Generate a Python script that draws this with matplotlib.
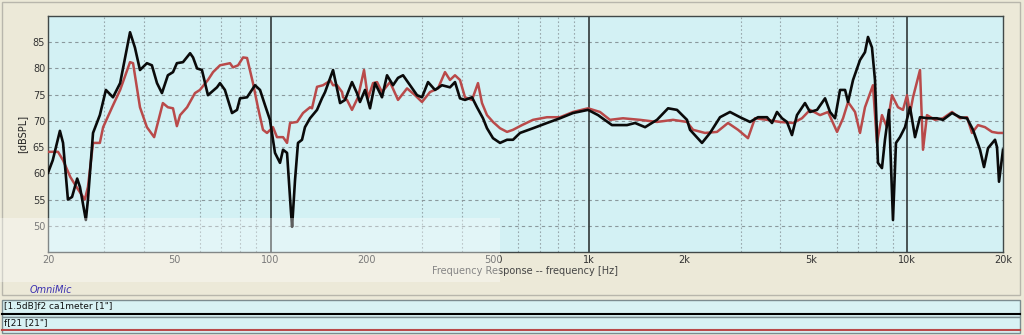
import matplotlib
matplotlib.use("Agg")
import matplotlib.pyplot as plt
import numpy as np
from matplotlib.patches import Rectangle
from matplotlib.ticker import FixedLocator, NullFormatter

# black trace: [1.5dB]f2 ca1meter
black_f = [20, 20.7, 21.8, 22.3, 23.1, 23.8, 24.7, 25.2, 26.3, 26.7, 27.7, 29.1, 30.4, 32.0,
           33.7, 36.2, 37.5, 38.9, 40.9, 42.4, 44.0, 45.6, 47.6, 49.4, 50.8, 53.1, 55.9, 57.1,
           58.8, 60.9, 63.6, 67.9, 69.4, 71.9, 75.7, 78.5, 80.2, 84.4, 89.4, 92.7, 96.1, 99.6,
           103.3, 107.1, 109.5, 112.7, 116.0, 116.9, 119.4, 122.0, 125.6, 128.3, 133.1, 140.0,
           145.1, 148.4, 157.2, 165.4, 171.5, 180.3, 186.9, 191.0, 198.1, 205.4, 213.0, 224.0,
           232.3, 242.6, 251.5, 260.8, 274.4, 288.6, 299.2, 312.5, 328.7, 345.7, 366.3, 379.8,
           393.8, 408.3, 429.5, 445.3, 465.0, 478.7, 500, 526, 553.4, 577.9, 607.9, 667.9,
           738.9, 811.9, 891.9, 994, 1069, 1182, 1318, 1397, 1502, 1637, 1774, 1892, 2034,
           2079, 2267, 2403, 2583, 2776, 2985, 3209, 3399, 3628, 3762, 3900, 4044, 4192, 4346,
           4506, 4775, 4953, 5211, 5521, 5724, 5935, 6154, 6381, 6521, 6760, 7109, 7370, 7532,
           7752, 7922, 8096, 8333, 8516, 8767, 9024, 9222, 9493, 9845, 10208, 10584, 10972,
           11626, 12407, 12958, 13834, 14656, 15417, 16100, 16936, 17433, 17945, 18877, 19153,
           19432, 20000]
black_db = [60.1, 62.5, 68.1, 65.8, 55.0, 55.5, 59.0, 57.4, 51.1, 55.0, 67.7, 71.1, 75.9, 74.5,
            77.2, 86.9, 84.0, 79.7, 81.0, 80.6, 77.2, 75.3, 78.7, 79.3, 81.0, 81.2, 82.9, 82.1,
            80.0, 79.7, 74.9, 76.4, 77.2, 75.9, 71.5, 72.1, 74.3, 74.5, 76.8, 75.9, 73.0, 70.2,
            63.9, 62.0, 64.5, 63.9, 52.5, 49.8, 58.7, 65.8, 66.4, 68.8, 70.5, 72.1,
            74.3, 75.5, 79.7, 73.4, 74.0, 77.4, 75.3, 73.6, 75.9, 72.4, 77.2, 74.5,
            78.7, 76.8, 78.2, 78.7, 76.8, 74.9, 74.5, 77.4, 75.9, 76.8, 76.4, 77.4,
            74.3, 74.0, 74.5, 72.6, 70.5, 68.6, 66.7, 65.8, 66.4, 66.4, 67.7, 68.6,
            69.6, 70.5, 71.5, 72.1, 71.1, 69.2, 69.2, 69.6, 68.8, 70.2, 72.4, 72.1, 70.2,
            68.3, 65.8, 67.7, 70.7, 71.7, 70.7, 69.8, 70.7, 70.7, 69.6, 71.7, 70.5, 69.8, 67.3,
            71.1, 73.4, 71.7, 72.1, 74.3, 71.7, 70.5, 75.9, 75.9, 73.6, 77.8, 81.6, 83.1, 86.0,
            84.0, 77.8, 62.0, 61.0, 66.4, 72.1, 51.1, 65.8, 66.9, 68.8, 72.6, 66.9, 70.7,
            70.5, 70.5, 70.2, 71.5, 70.7, 70.5, 68.3, 64.5, 61.2, 64.8, 66.4, 65.0,
            58.4, 64.5]

# red trace: f[21 [21"]
red_f = [20, 21.5, 22.3, 23.5, 24.7, 26.1, 26.7, 27.7, 29.1, 29.8, 31.8, 33.7, 36.2, 37.0,
         38.9, 40.9, 43.1, 45.9, 47.6, 49.4, 50.8, 52.0, 54.7, 57.9, 60.0, 63.6, 66.0, 69.4,
         74.6, 76.2, 79.1, 82.0, 84.4, 88.1, 91.3, 94.7, 97.5, 101.8, 104.8, 109.5, 112.7,
         115.2, 121.2, 126.5, 133.1, 135.0, 140.0, 146.2, 151.6, 153.9, 157.2, 161.8, 167.8,
         169.0, 173.9, 180.3, 188.3, 196.7, 202.4, 209.9, 216.1, 224.0, 237.4, 251.5, 268.5,
         284.4, 299.2, 317.0, 335.9, 353.3, 366.3, 379.8, 393.8, 408.3, 429.5, 448.5, 461.7,
         478.7, 500, 526, 553.4, 577.9, 616.7, 667.9, 738.9, 811.9, 891.9, 994, 1084, 1165,
         1280, 1448, 1637, 1839, 2034, 2125, 2317, 2527, 2736, 2942, 3162, 3326, 3628, 3986,
         4378, 4672, 4953, 5325, 5642, 6022, 6289, 6521, 6859, 7109, 7370, 7808, 8037, 8333,
         8640, 8959, 9357, 9702, 9989, 10208, 10432, 10972, 11213, 11542, 12229, 12958,
         13834, 14656, 15417, 15984, 16692, 17560, 18472, 19292, 20000]
red_db = [64.1, 64.1, 62.5, 59.3, 57.2, 55.0, 57.4, 65.8, 65.8, 68.8, 72.6, 75.9, 81.2, 81.0,
          72.6, 68.8, 66.9, 73.4, 72.6, 72.4, 69.0, 71.1, 72.6, 75.3, 75.9, 77.8, 79.3, 80.6,
          81.0, 80.2, 80.6, 82.1, 82.0, 77.2, 72.6, 68.3, 67.7, 68.8, 66.9, 66.9, 65.8,
          69.6, 69.8, 71.5, 72.6, 72.4, 76.5, 76.8, 77.4, 77.8, 76.8, 76.8, 75.5,
          74.5, 74.0, 72.1, 74.5, 79.7, 74.3, 77.2, 77.4, 75.5, 77.4, 74.0, 76.2,
          74.9, 73.6, 75.5, 76.2, 79.3, 77.8, 78.7, 77.8, 74.5, 74.0, 77.2, 73.4,
          71.1, 69.8, 68.6, 67.9, 68.3, 69.2, 70.2, 70.7, 70.7, 71.7, 72.4, 71.7, 70.2,
          70.5, 70.2, 69.8, 70.2, 69.8, 68.3, 67.7, 67.9, 69.6, 68.3, 66.7, 70.5, 70.2, 69.8,
          69.6, 70.5, 72.1, 71.1, 71.7, 67.9, 70.5, 73.6, 71.7, 67.7, 72.6, 76.8, 65.8, 71.1,
          68.8, 74.9, 72.6, 72.1, 74.9, 71.5, 74.5, 79.7, 64.5, 71.1, 70.2, 70.5,
          71.7, 70.5, 70.7, 67.7, 69.2, 68.8, 67.9, 67.7, 67.7]

major_ticks = [20, 50, 100, 200, 500, 1000, 2000, 5000, 10000, 20000]
major_labels = ['20', '50', '100', '200', '500', '1k', '2k', '5k', '10k', '20k']
db_ticks = [50, 55, 60, 65, 70, 75, 80, 85]

fig = plt.figure(figsize=(10.24, 3.35), dpi=100, facecolor='#ece9d8')

# window frame around the graph panel
fig.patches.append(Rectangle((0.002, 0.118), 0.994, 0.875, transform=fig.transFigure,
                             facecolor='none', edgecolor='#b8b6ac', lw=1))

ax = fig.add_axes([48 / 1024, 1 - 252 / 335, 955 / 1024, 236 / 335])
ax.set_facecolor('#d3f1f4')
ax.set_xscale('log')
ax.set_xlim(20, 20000)
ax.set_ylim(45, 90)

minor = [m * d for d in (10, 100, 1000, 10000) for m in range(2, 10) if 20 < m * d < 20000]
ax.xaxis.set_minor_locator(FixedLocator(minor))
ax.xaxis.set_minor_formatter(NullFormatter())
ax.set_xticks(major_ticks)
ax.set_xticklabels(major_labels)
ax.set_yticks(db_ticks)

ax.grid(which='minor', axis='x', color='#98a8ac', ls=(0, (1.5, 2)), lw=0.8)
ax.grid(which='major', axis='y', color='#8a989c', ls=(0, (3, 3)), lw=0.8)
for f in (100, 1000, 10000):
    ax.axvline(f, color='#303838', lw=1.2)

ax.plot(red_f, red_db, color='#b94a4a', lw=1.8, zorder=3)
ax.plot(black_f, black_db, color='#0a0a0a', lw=1.9, zorder=4)

ax.tick_params(which='both', length=0, labelsize=7, colors='#333333', pad=2)
for s in ax.spines.values():
    s.set_color('#404848')
    s.set_linewidth(1)
ax.set_ylabel('[dBSPL]', fontsize=7, color='#222222', labelpad=4)
ax.set_xlabel('Frequency Response -- frequency [Hz]', fontsize=7, color='#444444', labelpad=1)

# photobucket banner band
fig.patches.append(Rectangle((0, 1 - 282 / 335), 500 / 1024, 64 / 335, transform=fig.transFigure,
                             facecolor='white', alpha=0.35, edgecolor='none', zorder=10))

fig.text(30 / 1024, 1 - 290 / 335, 'OmniMic', fontsize=7, color='#3a30b0', style='italic',
         va='center')

# legend strips
strips = [("[1.5dB]f2 ca1meter [1\"]", '#000000', 300, 317),
          ("f[21 [21\"]", '#b94a4a', 317, 333)]
for label, col, y0, y1 in strips:
    fig.patches.append(Rectangle((0.002, 1 - y1 / 335), 0.994, (y1 - y0) / 335,
                                 transform=fig.transFigure, facecolor='#d8f2f4',
                                 edgecolor='#7c8c90', lw=1))
    fig.text(4 / 1024, 1 - (y0 + 6) / 335, label, fontsize=6.5, color='#111111', va='center')
    fig.lines.append(plt.Line2D([0.002, 0.996], [1 - (y1 - 3.5) / 335] * 2,
                                transform=fig.transFigure, color=col, lw=1.5))

fig.savefig('out.png', dpi=100, facecolor=fig.get_facecolor())
